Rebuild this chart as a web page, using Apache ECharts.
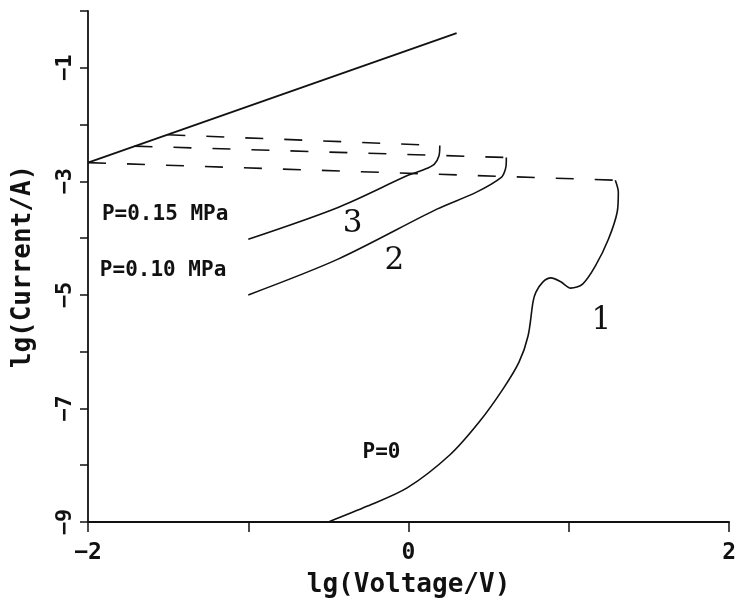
<!DOCTYPE html>
<html>
<head>
<meta charset="utf-8">
<script src="https://cdn.jsdelivr.net/npm/echarts@6/dist/echarts.min.js"></script>
<style>
html,body{margin:0;padding:0;background:#fff;}
#c{width:739px;height:603px;}
</style>
</head>
<body>
<div id="c"></div>
<script>
// ---- data (lg V, lg I) ----
const topLineX = [-2.0, 0.30];
const topLineY = [-2.67, -0.39];

const dash1X = [-2.0, 1.29];
const dash1Y = [-2.67, -2.98];
const dash2X = [-1.71, 0.61];
const dash2Y = [-2.38, -2.58];
const dash3X = [-1.505, 0.195];
const dash3Y = [-2.18, -2.37];

const curve3X = [-1.0, -0.44, 0.0, 0.09, 0.16, 0.19, 0.195];
const curve3Y = [-4.02, -3.46, -2.89, -2.80, -2.70, -2.55, -2.37];

const curve2X = [-1.0, -0.44, 0.177, 0.424, 0.579, 0.604, 0.61, 0.61];
const curve2Y = [-5.0, -4.37, -3.49, -3.19, -2.93, -2.79, -2.65, -2.58];

const curve1X = [-0.50, -0.256, -0.009, 0.257, 0.443, 0.591, 0.690, 0.746, 0.777, 0.795, 0.839, 0.888, 0.950, 1.012, 1.086, 1.166, 1.247, 1.302, 1.309, 1.290];
const curve1Y = [-9.0, -8.72, -8.40, -7.82, -7.23, -6.65, -6.18, -5.72, -5.12, -4.95, -4.77, -4.70, -4.77, -4.88, -4.81, -4.49, -4.02, -3.54, -3.19, -2.98];

const yLabelValues = [-9, -7, -5, -3, -1];
const xLabelValues = [-2, 0, 2];

const annoText = ['P=0.15 MPa', 'P=0.10 MPa', '3', '2', '1', 'P=0'];
const annoX = [-1.913, -1.926, -0.349, -0.089, 1.203, -0.169];
const annoY = [-3.58, -4.58, -3.75, -4.40, -5.46, -7.77];

// ---- helpers ----
function pairs(xs, ys) { return xs.map((x, i) => [x, ys[i]]); }
function fmtNum(v) { return v < 0 ? '\u2212' + Math.abs(v) : String(v); }

const MONO = '"DejaVu Sans Mono", "Liberation Mono", monospace';
const SERIF = '"DejaVu Serif", "Liberation Serif", serif';
const INK = '#111';

function lineSeries(xs, ys, opts) {
  return Object.assign({
    type: 'line',
    data: pairs(xs, ys),
    showSymbol: false,
    symbol: 'none',
    silent: true,
    animation: false,
    lineStyle: { color: INK, width: 1.6 }
  }, opts || {});
}

const annoStyles = [
  { fontFamily: MONO, fontWeight: 'bold', fontSize: 21, align: 'left' },
  { fontFamily: MONO, fontWeight: 'bold', fontSize: 21, align: 'left' },
  { fontFamily: SERIF, fontWeight: 'normal', fontSize: 31, align: 'center' },
  { fontFamily: SERIF, fontWeight: 'normal', fontSize: 31, align: 'center' },
  { fontFamily: SERIF, fontWeight: 'normal', fontSize: 31, align: 'center' },
  { fontFamily: MONO, fontWeight: 'bold', fontSize: 21, align: 'center' }
];

const annoData = annoText.map((t, i) => ({
  value: [annoX[i], annoY[i]],
  label: Object.assign({
    show: true, position: 'inside', formatter: t, color: INK, opacity: 1,
    verticalAlign: 'middle', textBorderWidth: 0
  }, annoStyles[i])
}));

const chart = echarts.init(document.getElementById('c'), null, { renderer: 'canvas' });
chart.setOption({
  backgroundColor: '#fff',
  animation: false,
  grid: { left: 88, right: 4, top: 11, bottom: 79, containLabel: false },
  xAxis: {
    type: 'value', min: -2, max: 2, interval: 1,
    name: 'lg(Voltage/V)', nameLocation: 'middle', nameGap: 50,
    nameTextStyle: { fontFamily: MONO, fontWeight: 'bold', fontSize: 26, color: INK },
    axisLine: { show: true, onZero: false, lineStyle: { color: INK, width: 1.8 } },
    axisTick: { show: true, inside: false, length: 10, lineStyle: { color: INK, width: 1.5 } },
    axisLabel: {
      margin: 20, fontFamily: MONO, fontWeight: 'bold', fontSize: 23, color: INK,
      formatter: v => xLabelValues.includes(v) ? fmtNum(v) : ''
    },
    splitLine: { show: false }
  },
  yAxis: {
    type: 'value', min: -9, max: 0, interval: 1,
    name: 'lg(Current/A)', nameLocation: 'middle', nameGap: 52, nameRotate: 90,
    nameTextStyle: { fontFamily: MONO, fontWeight: 'bold', fontSize: 26, color: INK },
    axisLine: { show: true, onZero: false, lineStyle: { color: INK, width: 1.8 } },
    axisTick: { show: true, inside: false, length: 8, lineStyle: { color: INK, width: 1.5 } },
    axisLabel: {
      rotate: 90, margin: 12, fontFamily: MONO, fontWeight: 'bold', fontSize: 22, color: INK,
      formatter: v => yLabelValues.includes(v) ? fmtNum(v) : ''
    },
    splitLine: { show: false }
  },
  series: [
    lineSeries(topLineX, topLineY, { lineStyle: { color: INK, width: 1.8 } }),
    lineSeries(dash1X, dash1Y, { lineStyle: { color: INK, width: 1.6, type: [18, 21] } }),
    lineSeries(dash2X, dash2Y, { lineStyle: { color: INK, width: 1.6, type: [18, 21] } }),
    lineSeries(dash3X, dash3Y, { lineStyle: { color: INK, width: 1.6, type: [18, 21] } }),
    lineSeries(curve3X, curve3Y, { smooth: 0.3 }),
    lineSeries(curve2X, curve2Y, { smooth: 0.3 }),
    lineSeries(curve1X, curve1Y, { smooth: 0.3 }),
    {
      type: 'scatter', symbolSize: 0, silent: true, animation: false,
      itemStyle: { opacity: 1 },
      data: annoData
    }
  ]
});
</script>
</body>
</html>
